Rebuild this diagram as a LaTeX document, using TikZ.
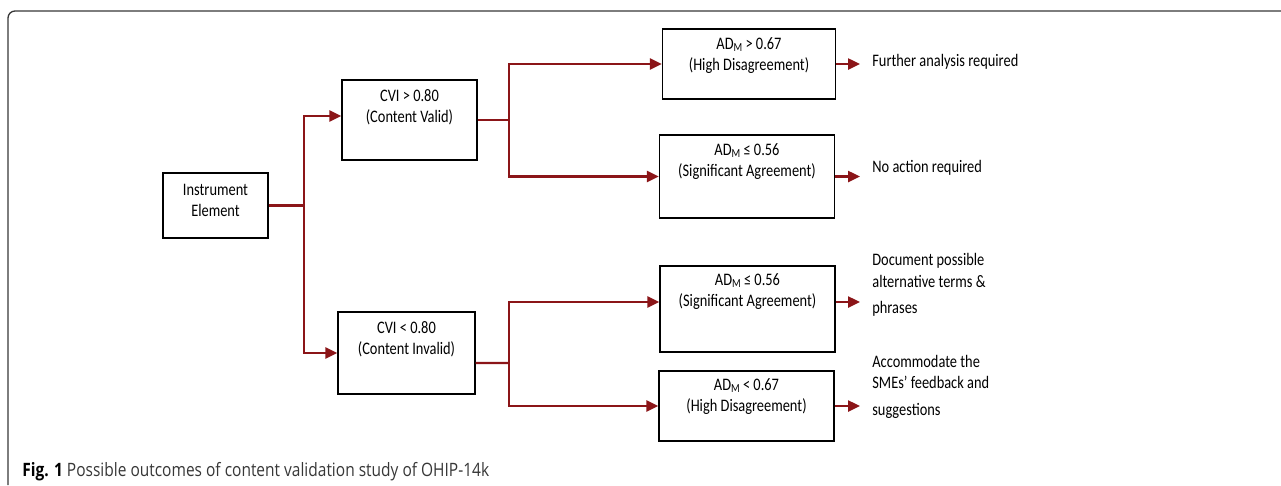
\documentclass[tikz,border=0pt]{standalone}
\usepackage{fontspec}
\setmainfont{Carlito}[FakeStretch=0.82]
\newfontfamily\capfont{Open Sans}[FakeStretch=0.84]
\usetikzlibrary{arrows.meta}
\definecolor{linkred}{RGB}{139,21,24}
\definecolor{framegray}{RGB}{55,55,55}
\newcommand{\adm}{AD\raisebox{-0.15ex}{\scriptsize M}}

\begin{document}
\begin{tikzpicture}[x=0.02cm, y=-0.02cm, >={Triangle[length=0.24cm,width=0.22cm]},
  box/.style={draw=black, line width=0.8pt, inner sep=0pt},
  boxtext/.style={align=center, inner sep=0pt, font=\fontsize{10}{12}\selectfont},
  outtext/.style={align=left, anchor=west, inner xsep=0.24cm, inner ysep=0pt, font=\fontsize{10}{12}\selectfont},
  link/.style={draw=linkred, line width=1.4pt}]
  \useasboundingbox (0,0) rectangle (1281,485);
  \draw[framegray, line width=0.75pt, rounded corners=0.14cm] (8,485) -- (8,11) -- (1281,11);

  % boxes
  \node[box, minimum width=2.1cm, minimum height=1.3cm] (inst) at (215.5,205.5) {};
  \node[box, minimum width=2.7cm, minimum height=1.6cm] (cvi1) at (409.5,120) {};
  \node[box, minimum width=2.74cm, minimum height=1.64cm] (cvi2) at (406.5,353) {};
  \node[box, minimum width=3.46cm, minimum height=1.4cm] (ad1) at (749,64) {};
  \node[box, minimum width=3.5cm, minimum height=1.66cm] (ad2) at (747,176.5) {};
  \node[box, minimum width=3.5cm, minimum height=1.72cm] (ad3) at (747.5,309) {};
  \node[box, minimum width=3.5cm, minimum height=1.4cm] (ad4) at (746.5,406) {};

  \node[boxtext] (instT) at (215.5,200) {Instrument\\Element};
  \node[boxtext] (cvi1T) at (409.5,107) {CVI > 0.80\\(Content Valid)};
  \node[boxtext] (cvi2T) at (406.5,339) {CVI < 0.80\\(Content Invalid)};
  \node[boxtext] (ad1T) at (749,56) {\adm{} > 0.67\\(High Disagreement)};
  \node[boxtext] (ad2T) at (747,162) {\adm{} ≤ 0.56\\(Significant Agreement)};
  \node[boxtext] (ad3T) at (747.5,292) {\adm{} ≤ 0.56\\(Significant Agreement)};
  \node[boxtext] (ad4T) at (746.5,397) {\adm{} < 0.67\\(High Disagreement)};

  % outcomes
  \node[outtext] (out1) at (860,62) {Further analysis required};
  \node[outtext] (out2) at (860,168) {No action required};
  \node[outtext] (out3) at (860,285) {Document possible\\alternative terms \&\\[3pt]phrases};
  \node[outtext] (out4) at (860,387) {Accommodate the\\SMEs' feedback and\\[3pt]suggestions};

  \coordinate (j0) at (304,205.5);
  \coordinate (j1) at (509,120);
  \coordinate (j2) at (509,363);

  \draw[link] (inst.east) -- (j0);
  \draw[link,->] (j0) |- ([yshift=0.08cm]cvi1.west);
  \draw[link,->] (j0) |- (cvi2.west);
  \draw[link] (cvi1.east) -- (j1);
  \draw[link,->] (j1) |- (ad1.west);
  \draw[link,->] (j1) |- (ad2.west);
  \draw[link] ([yshift=-0.2cm]cvi2.east) -- (j2);
  \draw[link,->] (j2) |- ([yshift=0.14cm]ad3.west);
  \draw[link,->] (j2) |- (ad4.west);

  \draw[link,->] (ad1.east) -- (ad1.east -| out1.west);
  \draw[link,->] (ad2.east) -- (ad2.east -| out2.west);
  \draw[link,->] ([yshift=0.14cm]ad3.east) -- ([yshift=0.14cm]ad3.east -| out3.west);
  \draw[link,->] (ad4.east) -- (ad4.east -| out4.west);

  \node[anchor=base west, inner sep=0pt, text=framegray, font=\capfont\fontsize{10.5}{12}\selectfont] (cap) at (22,476)
    {\textbf{\color{black}Fig. 1} Possible outcomes of content validation study of OHIP-14k};
\end{tikzpicture}
\end{document}
